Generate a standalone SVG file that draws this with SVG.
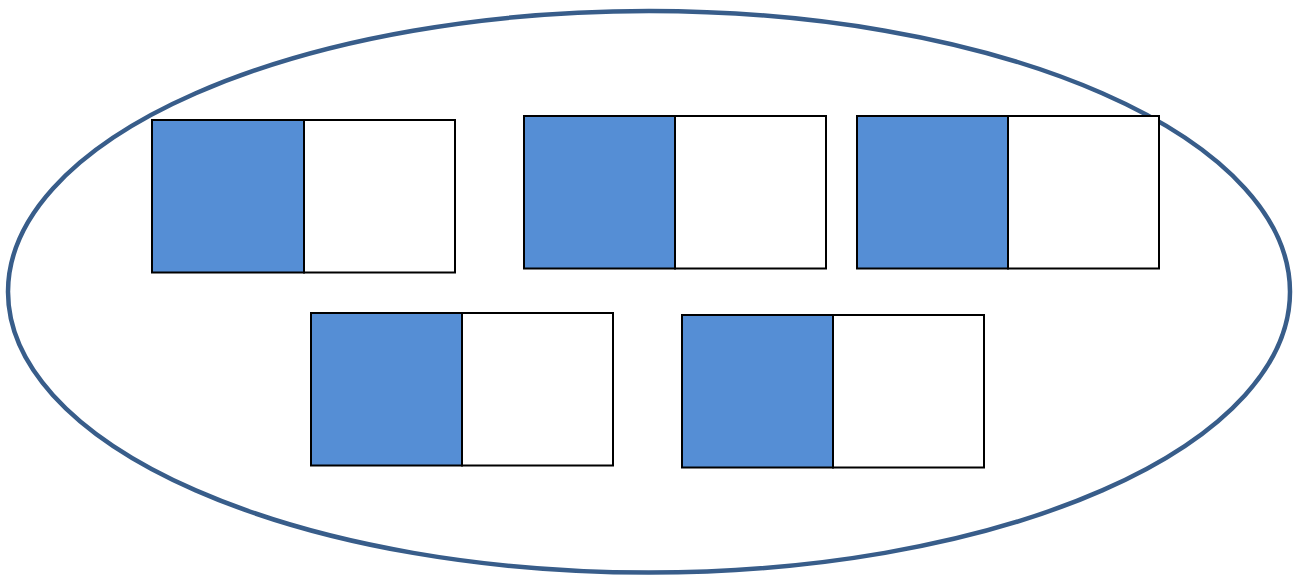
<svg xmlns="http://www.w3.org/2000/svg" width="1294" height="575" viewBox="0 0 1294 575">
<style>
.outer{fill:#ffffff;stroke:#385d8a;stroke-width:4.5}
.blue{fill:#558ed5;stroke:#000000;stroke-width:2}
.white{fill:#ffffff;stroke:#000000;stroke-width:2}
</style>
<rect width="1294" height="575" fill="#ffffff"/>
<g id="ellipse"><ellipse class="outer" cx="649" cy="291.8" rx="641" ry="280.8"/></g>
<g id="node1"><rect class="blue" x="152" y="120" width="152" height="152.5"/><rect class="white" x="304" y="120" width="151" height="152.5"/></g>
<g id="node2"><rect class="blue" x="524" y="116" width="151" height="152.5"/><rect class="white" x="675" y="116" width="151" height="152.5"/></g>
<g id="node3"><rect class="blue" x="857" y="116" width="151" height="152.5"/><rect class="white" x="1008" y="116" width="151" height="152.5"/></g>
<g id="node4"><rect class="blue" x="311" y="313" width="151" height="152.5"/><rect class="white" x="462" y="313" width="151" height="152.5"/></g>
<g id="node5"><rect class="blue" x="682" y="315" width="151" height="152.5"/><rect class="white" x="833" y="315" width="151" height="152.5"/></g>
<g id="connectors"></g>
</svg>
